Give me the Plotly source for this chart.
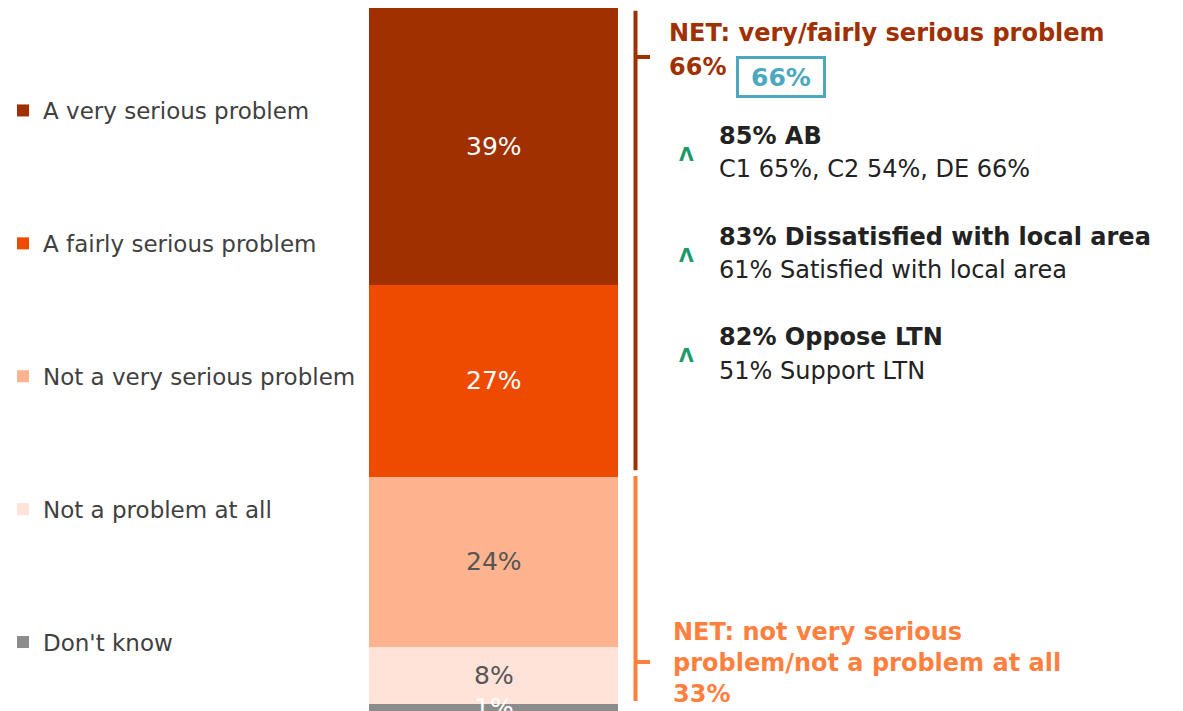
import plotly.graph_objects as go

W, H = 1183, 711
FONT = "DejaVu Sans"

categories = ["Total"]
series_names = ["A very serious problem", "A fairly serious problem",
                "Not a very serious problem", "Not a problem at all", "Don't know"]
series_values = [39, 27, 24, 8, 1]
series_colors = ["#A03000", "#EE4B00", "#FDB38D", "#FFE2D8", "#8C8C8C"]
label_colors = ["#FFFFFF", "#FFFFFF", "#555555", "#555555", "#FFFFFF"]

net_serious = 66
net_not_serious = 33
highlights = [
    ("85% AB", "C1 65%, C2 54%, DE 66%"),
    ("83% Dissatisfied with local area", "61% Satisfied with local area"),
    ("82% Oppose LTN", "51% Support LTN"),
]

def X(px):
    return px / W

def Y(py):
    return 1 - py / H

fig = go.Figure()
for i, (name, val, col) in enumerate(zip(series_names, series_values, series_colors)):
    fig.add_trace(go.Bar(
        x=categories, y=[val], name=name, marker=dict(color=col, line=dict(width=0)),
        legendgroup=f"g{i}", hoverinfo="skip",
    ))

# bar labels
cum = 0
for val, lc in zip(series_values, label_colors):
    fig.add_annotation(x=categories[0], y=cum + val / 2, xref="x", yref="y",
                       text=f"{val}%", showarrow=False,
                       font=dict(family=FONT, size=25, color=lc))
    cum += val
total = cum

# brackets
top_col = "#A03000"
bot_col = "#FF7F3F"
fig.add_shape(type="line", xref="paper", yref="y", x0=X(635.5), x1=X(635.5),
              y0=0.4, y1=net_serious - 0.9, line=dict(color=top_col, width=4))
fig.add_shape(type="line", xref="paper", yref="paper", x0=X(635.5), x1=X(650),
              y0=Y(57), y1=Y(57), line=dict(color=top_col, width=4))
fig.add_shape(type="line", xref="paper", yref="y", x0=X(635.5), x1=X(635.5),
              y0=net_serious - 0.1, y1=total - 1.4, line=dict(color=bot_col, width=4))
fig.add_shape(type="line", xref="paper", yref="paper", x0=X(635.5), x1=X(650),
              y0=Y(662), y1=Y(662), line=dict(color=bot_col, width=4))

# NET top
fig.add_annotation(xref="paper", yref="paper", x=X(667), y=Y(33), xanchor="left", yanchor="middle",
                   text="<b>NET: very/fairly serious problem</b>", showarrow=False,
                   font=dict(family=FONT, size=24, color=top_col))
fig.add_annotation(xref="paper", yref="paper", x=X(667), y=Y(67), xanchor="left", yanchor="middle",
                   text=f"<b>{net_serious}%</b>", showarrow=False,
                   font=dict(family=FONT, size=24, color=top_col))
fig.add_annotation(xref="paper", yref="paper", x=X(781), y=Y(77), xanchor="center", yanchor="middle",
                   text=f"<b>{net_serious}%</b>", showarrow=False,
                   width=82, height=34, borderwidth=3, bordercolor="#4BA8C0", borderpad=1,
                   font=dict(family=FONT, size=25, color="#4BA8C0"))

# highlights
ys = [(136, 169), (237, 270), (337, 371)]
for (b, r), (y1, y2) in zip(highlights, ys):
    fig.add_annotation(xref="paper", yref="paper", x=X(686), y=Y((y1 + y2) / 2 + 1),
                       xanchor="center", yanchor="middle", text="<b>Λ</b>", showarrow=False,
                       font=dict(family=FONT, size=19, color="#1A9A6A"))
    fig.add_annotation(xref="paper", yref="paper", x=X(717), y=Y(y1), xanchor="left", yanchor="middle",
                       text=f"<b>{b}</b>", showarrow=False,
                       font=dict(family=FONT, size=24, color="#222222"))
    fig.add_annotation(xref="paper", yref="paper", x=X(717), y=Y(y2), xanchor="left", yanchor="middle",
                       text=r, showarrow=False,
                       font=dict(family=FONT, size=24, color="#222222"))

# NET bottom
fig.add_annotation(xref="paper", yref="paper", x=X(671), y=Y(663), xanchor="left", yanchor="middle",
                   text=f"<b>NET: not very serious<br>problem/not a problem at all<br>{net_not_serious}%</b>",
                   showarrow=False, align="left",
                   font=dict(family=FONT, size=24, color=bot_col))

fig.update_layout(
    width=W, height=H, barmode="stack", bargap=0,
    margin=dict(l=0, r=0, t=0, b=0),
    paper_bgcolor="white", plot_bgcolor="white",
    xaxis=dict(domain=[X(369), X(618)], visible=False),
    yaxis=dict(domain=[0, Y(8)], range=[total, 0], visible=False),
    showlegend=True,
    legend=dict(x=X(3), y=Y(89), xanchor="left", yanchor="top", traceorder="grouped",
                tracegroupgap=100, itemwidth=30,
                font=dict(family=FONT, size=23, color="#404040"), bgcolor="rgba(0,0,0,0)"),
    font=dict(family=FONT),
)

fig.write_html("out.html")
